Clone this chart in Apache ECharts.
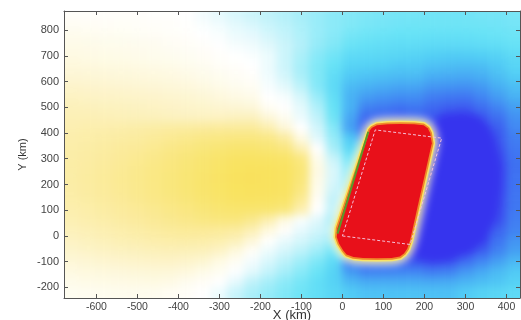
<!DOCTYPE html>
<html>
<head>
<meta charset="utf-8">
<script src="https://cdn.jsdelivr.net/npm/echarts@6/dist/echarts.min.js"></script>
<style>
    html, body { margin: 0; padding: 0; background: #fff; }
    #wrap { position: relative; width: 521px; height: 320px; }
    #heatClip { position: absolute; left: 64px; top: 11px; width: 456px; height: 287px; overflow: hidden; }
    #heat { position: absolute; left: -20px; top: -20px; width: 496px; height: 327px; filter: blur(4px); }
    #main { position: absolute; left: 0; top: 0; width: 521px; height: 320px; }
</style>
</head>
<body>
<div id="wrap">
    <div id="heatClip"><div id="heat"></div></div>
    <div id="main"></div>
</div>
<script>
// cell centres of the field grid (km)
var xCenters = [-660, -620, -580, -540, -500, -460, -420, -380, -340, -300, -260, -220, -180, -140,
    -100, -60, -20, 20, 60, 100, 140, 180, 220, 260, 300, 340, 380, 420];
var yCenters = [860, 820, 780, 740, 700, 660, 620, 580, 540, 500, 460, 420, 380, 340,
    300, 260, 220, 180, 140, 100, 60, 20, -20, -60, -100, -140, -180, -220];

// field values, one row per yCenters entry (top to bottom)
var fieldRows = [
    [0.1, 0.1, 0.1, 0.1, 0.1, 0.05, 0.05, 0.0, -0.2, -0.4, -0.6, -0.75, -0.9, -1.05, -1.2, -1.35, -1.5, -1.6, -1.7, -1.75, -1.8, -1.8, -1.85, -1.85, -1.85, -1.8, -1.8, -1.75],
    [0.25, 0.22, 0.2, 0.18, 0.15, 0.12, 0.1, 0.05, -0.1, -0.25, -0.45, -0.6, -0.8, -0.95, -1.15, -1.35, -1.5, -1.65, -1.75, -1.8, -1.85, -1.9, -1.9, -1.9, -1.9, -1.88, -1.85, -1.8],
    [0.4, 0.37, 0.33, 0.3, 0.27, 0.22, 0.15, 0.1, 0.0, -0.1, -0.3, -0.4, -0.65, -0.85, -1.1, -1.35, -1.55, -1.8, -1.9, -1.95, -2.0, -2.0, -2.05, -2.05, -2.05, -2.0, -1.95, -1.9],
    [0.5, 0.47, 0.43, 0.4, 0.37, 0.32, 0.25, 0.18, 0.1, 0.0, -0.15, -0.25, -0.5, -0.75, -1.05, -1.4, -1.65, -1.95, -2.05, -2.1, -2.15, -2.15, -2.2, -2.2, -2.2, -2.15, -2.1, -2.0],
    [0.6, 0.57, 0.53, 0.5, 0.45, 0.4, 0.35, 0.28, 0.2, 0.1, 0.0, -0.1, -0.3, -0.75, -1.15, -1.55, -1.85, -2.2, -2.25, -2.3, -2.35, -2.4, -2.5, -2.55, -2.55, -2.5, -2.4, -2.2],
    [0.75, 0.72, 0.68, 0.64, 0.6, 0.55, 0.5, 0.42, 0.32, 0.2, 0.1, 0.0, -0.3, -0.75, -1.2, -1.65, -2.0, -2.4, -2.45, -2.5, -2.6, -2.6, -2.75, -2.8, -2.85, -2.8, -2.6, -2.35],
    [0.9, 0.87, 0.83, 0.79, 0.75, 0.7, 0.65, 0.57, 0.46, 0.34, 0.22, 0.1, -0.25, -0.65, -1.15, -1.65, -2.15, -2.6, -2.7, -2.78, -2.85, -2.85, -3.05, -3.1, -3.15, -3.05, -2.8, -2.55],
    [1.1, 1.06, 1.02, 0.98, 0.93, 0.88, 0.82, 0.74, 0.63, 0.5, 0.35, 0.25, -0.15, -0.45, -0.95, -1.6, -2.2, -2.85, -3.0, -3.1, -3.2, -3.2, -3.45, -3.5, -3.55, -3.4, -3.05, -2.8],
    [1.25, 1.22, 1.18, 1.15, 1.12, 1.08, 1.02, 0.95, 0.85, 0.72, 0.58, 0.45, 0.0, -0.15, -0.65, -1.35, -2.1, -3.0, -3.35, -3.5, -3.6, -3.6, -3.9, -4.0, -4.05, -3.75, -3.35, -3.0],
    [1.4, 1.38, 1.35, 1.32, 1.28, 1.24, 1.18, 1.12, 1.05, 0.98, 0.9, 0.8, 0.25, 0.0, -0.45, -1.1, -2.0, -3.0, -3.8, -3.95, -4.1, -4.0, -4.3, -4.5, -4.6, -4.2, -3.75, -3.3],
    [1.5, 1.5, 1.48, 1.45, 1.42, 1.38, 1.33, 1.28, 1.25, 1.25, 1.3, 1.3, 0.8, 0.3, -0.3, -0.9, -1.9, -3.2, -4.3, -4.45, -4.65, -4.45, -4.7, -5.0, -5.0, -4.6, -4.15, -3.55],
    [1.6, 1.65, 1.68, 1.72, 1.76, 1.82, 1.88, 1.93, 1.97, 2.0, 2.0, 2.0, 1.6, 0.8, 0.0, -0.7, -1.6, -3.3, -4.8, -4.8, -4.8, -4.8, -5.0, -5.5, -5.5, -5.5, -4.5, -3.7],
    [1.7, 1.75, 1.8, 1.87, 1.95, 2.05, 2.2, 2.35, 2.5, 2.6, 2.7, 2.7, 2.5, 1.9, 0.6, -0.5, -1.4, -2.6, -4.5, -4.8, -4.8, -4.8, -5.0, -5.5, -5.5, -5.5, -4.6, -3.9],
    [1.75, 1.82, 1.9, 2.0, 2.1, 2.25, 2.45, 2.65, 2.85, 3.1, 3.3, 3.3, 3.1, 2.7, 1.5, 0.0, -1.2, -2.3, -4.5, -4.8, -4.8, -4.8, -5.0, -5.5, -5.5, -5.5, -4.8, -4.0],
    [1.78, 1.87, 1.97, 2.1, 2.25, 2.42, 2.65, 2.9, 3.2, 3.5, 3.8, 3.85, 3.8, 3.6, 2.7, 0.4, -0.8, -1.8, -4.5, -4.8, -4.8, -4.8, -5.0, -5.5, -5.5, -5.5, -5.2, -4.1],
    [1.8, 1.9, 2.02, 2.17, 2.33, 2.52, 2.75, 3.02, 3.35, 3.7, 4.0, 4.1, 4.1, 3.9, 3.0, 0.6, -0.6, -1.5, -4.8, -4.8, -4.8, -4.8, -5.0, -5.5, -5.5, -5.5, -5.5, -4.15],
    [1.8, 1.92, 2.05, 2.2, 2.37, 2.56, 2.8, 3.08, 3.42, 3.8, 4.1, 4.2, 4.15, 3.95, 2.9, 0.5, -0.6, -1.5, -4.8, -4.8, -4.8, -4.8, -5.0, -5.5, -5.5, -5.5, -5.5, -4.1],
    [1.78, 1.9, 2.03, 2.18, 2.35, 2.54, 2.78, 3.05, 3.4, 3.75, 4.05, 4.1, 4.1, 3.9, 2.7, 0.4, -0.7, -2.0, -4.8, -4.8, -4.8, -4.8, -5.0, -5.5, -5.5, -5.5, -5.4, -4.1],
    [1.75, 1.85, 1.97, 2.1, 2.27, 2.45, 2.67, 2.92, 3.25, 3.55, 3.85, 3.9, 3.85, 3.6, 2.2, 0.2, -0.9, -4.8, -4.8, -4.8, -4.8, -4.8, -5.0, -5.5, -5.5, -5.5, -5.1, -4.05],
    [1.65, 1.75, 1.86, 1.98, 2.12, 2.28, 2.45, 2.65, 2.9, 3.15, 3.35, 3.3, 3.2, 2.8, 1.6, 0.0, -0.9, -4.8, -4.8, -4.8, -4.8, -4.8, -5.0, -5.5, -5.5, -5.5, -5.0, -4.0],
    [1.55, 1.65, 1.75, 1.86, 1.98, 2.12, 2.27, 2.42, 2.6, 2.75, 2.75, 2.3, 1.6, 0.6, -0.1, -0.5, -1.2, -4.8, -4.8, -4.8, -4.8, -4.8, -5.0, -5.5, -5.5, -5.5, -4.9, -3.9],
    [1.4, 1.5, 1.6, 1.7, 1.8, 1.9, 2.0, 2.08, 2.1, 2.05, 1.9, 1.5, 0.7, 0.1, -0.4, -0.7, -1.1, -4.8, -4.8, -4.8, -4.8, -4.8, -5.0, -5.5, -5.5, -5.4, -4.4, -3.8],
    [1.25, 1.35, 1.44, 1.53, 1.62, 1.7, 1.75, 1.78, 1.75, 1.65, 1.4, 0.8, 0.05, -0.35, -0.65, -0.95, -1.4, -4.8, -4.8, -4.8, -4.8, -4.8, -5.0, -5.5, -5.5, -5.2, -4.1, -3.5],
    [1.05, 1.15, 1.23, 1.3, 1.37, 1.43, 1.47, 1.45, 1.38, 1.2, 0.7, 0.15, -0.3, -0.65, -0.95, -1.3, -1.8, -4.5, -4.8, -4.8, -4.8, -4.8, -5.0, -5.5, -5.4, -4.5, -3.8, -3.3],
    [0.85, 0.92, 1.0, 1.06, 1.12, 1.16, 1.17, 1.1, 0.95, 0.6, 0.25, -0.2, -0.6, -0.95, -1.3, -1.7, -2.2, -4.15, -4.75, -4.8, -4.7, -4.75, -5.0, -4.75, -4.25, -3.75, -3.3, -2.9],
    [0.65, 0.7, 0.76, 0.8, 0.83, 0.85, 0.84, 0.72, 0.5, 0.3, -0.05, -0.45, -0.85, -1.2, -1.55, -1.95, -2.4, -3.4, -3.8, -3.8, -3.75, -3.75, -3.95, -3.85, -3.45, -3.15, -2.85, -2.6],
    [0.45, 0.5, 0.54, 0.57, 0.59, 0.6, 0.55, 0.35, 0.2, 0.0, -0.4, -0.9, -1.2, -1.5, -1.8, -2.1, -2.4, -2.9, -3.1, -3.1, -3.1, -3.1, -3.15, -3.1, -2.95, -2.8, -2.65, -2.45],
    [0.3, 0.32, 0.34, 0.36, 0.37, 0.35, 0.25, 0.15, 0.0, -0.3, -0.8, -1.15, -1.4, -1.65, -1.9, -2.1, -2.3, -2.55, -2.7, -2.7, -2.7, -2.7, -2.75, -2.75, -2.55, -2.4, -2.3, -2.2]
];

// saturated uplift block (km)
var blockX = [67, 72, 84, 110, 141, 175, 198, 208, 214, 218, 165, 158, 150, 140, 120, 84, 50, 27, 10, 2, -8, -14, -12];
var blockY = [411, 420, 430, 434, 435, 434, 430, 418, 400, 360, -17, -50, -68, -80, -86, -87, -86, -82, -72, -56, -30, -4, 30];

// saturated subsidence lobe (km)
var blobX = [214, 238, 270, 299, 330, 348, 368, 377, 385, 383, 377, 365, 348, 325, 299, 270, 238, 205, 177, 153, 189];
var blobY = [419, 470, 480, 481, 470, 442, 400, 353, 256, 160, 81, 30, -17, -52, -75, -93, -102, -99, -87, -56, 411];

// fault outline and trace
var faultX = [0, 165, 242, 80, 0];
var faultY = [0, -33, 380, 412, 0];
var traceX = [63, -12];
var traceY = [405, 9];

var xTicks = [-600, -500, -400, -300, -200, -100, 0, 100, 200, 300, 400];
var yTicks = [-200, -100, 0, 100, 200, 300, 400, 500, 600, 700, 800];

var xMin = -679, xMax = 433, yMin = -241, yMax = 874;
var halfCell = 20;
var edgePad = 100;

var heatData = [];
for (var r = 0; r < yCenters.length; r++) {
    for (var c = 0; c < xCenters.length; c++) {
        heatData.push([xCenters[c], yCenters[r], fieldRows[r][c]]);
    }
}

function toPoints(api, xs, ys) {
    var pts = [];
    for (var i = 0; i < xs.length; i++) {
        pts.push(api.coord([xs[i], ys[i]]));
    }
    return pts;
}

function pairs(xs, ys) {
    var out = [];
    for (var i = 0; i < xs.length; i++) {
        out.push([xs[i], ys[i]]);
    }
    return out;
}

function renderCell(params, api) {
    var x = api.value(0);
    var y = api.value(1);
    var left = x - halfCell, right = x + halfCell, top = y + halfCell, bottom = y - halfCell;
    // outer cells run on under the clip so the softening does not fade at the frame
    if (x === xCenters[0]) left -= edgePad;
    if (x === xCenters[xCenters.length - 1]) right += edgePad;
    if (y === yCenters[0]) top += edgePad;
    if (y === yCenters[yCenters.length - 1]) bottom -= edgePad;
    var p1 = api.coord([left, top]);
    var p2 = api.coord([right, bottom]);
    var color = api.visual('color');
    return {
        type: 'rect',
        shape: { x: p1[0], y: p1[1], width: p2[0] - p1[0], height: p2[1] - p1[1] },
        style: { fill: color, stroke: color, lineWidth: 0.6 }
    };
}

function renderBlob(params, api) {
    return {
        type: 'polygon',
        shape: { points: toPoints(api, blobX, blobY), smooth: 0.35 },
        style: { fill: '#3634ee' }
    };
}

// soft halo round the block (blurred layer)
function renderGlow(params, api) {
    var pts = toPoints(api, blockX, blockY);
    return {
        type: 'group',
        children: [
            { type: 'polygon', shape: { points: pts }, style: { fill: 'none', stroke: '#ffffff', lineWidth: 12, lineJoin: 'round' } },
            { type: 'polygon', shape: { points: pts }, style: { fill: '#f8e35c', stroke: '#f8e35c', lineWidth: 5, lineJoin: 'round' } }
        ]
    };
}

// crisp block with its rim (top layer)
function renderBlock(params, api) {
    var pts = toPoints(api, blockX, blockY);
    return {
        type: 'group',
        children: [
            { type: 'polygon', shape: { points: pts }, style: { fill: 'none', stroke: '#f8e468', lineWidth: 6.5, lineJoin: 'round' } },
            { type: 'polygon', shape: { points: pts }, style: { fill: 'none', stroke: '#f0892a', lineWidth: 3.5, lineJoin: 'round' } },
            { type: 'polygon', shape: { points: pts }, style: { fill: '#e8101a' } }
        ]
    };
}

var colorStops = ['#3634ee', '#3840ef', '#3a4def', '#3c5ff0', '#3f78f2', '#4294f3', '#48b2f4', '#52cff5',
    '#66e2f6', '#8ceaf8', '#b8f1fa', '#e0f8fc', '#ffffff', '#fefbe8', '#fdf5d0', '#fcf0b6',
    '#fbeb9c', '#fae886', '#f9e676', '#f9e46a', '#f9e360', '#f8de56', '#f4a232', '#ee5a22', '#e6121c'];

// --- softened field layer ---
var heatChart = echarts.init(document.getElementById('heat'));
heatChart.setOption({
    animation: false,
    grid: { left: 20, right: 20, top: 20, bottom: 20, containLabel: false, outerBoundsMode: 'none' },
    visualMap: {
        type: 'continuous', show: false, min: -6, max: 6, dimension: 2, seriesIndex: 0,
        inRange: { color: colorStops }
    },
    xAxis: { type: 'value', min: xMin, max: xMax, show: false },
    yAxis: { type: 'value', min: yMin, max: yMax, show: false },
    series: [
        { type: 'custom', renderItem: renderCell, data: heatData, encode: { x: 0, y: 1 }, clip: false, silent: true, z: 1 },
        { type: 'custom', renderItem: renderBlob, data: [[0, 0]], silent: true, z: 2 },
        { type: 'custom', renderItem: renderGlow, data: [[0, 0]], silent: true, z: 3 }
    ]
});

// --- axes, block and fault lines ---
var axisColor = '#555';
var fontFamily = 'Liberation Sans, Arial, sans-serif';

var myChart = echarts.init(document.getElementById('main'));

var option = {
    animation: false,
    backgroundColor: 'transparent',
    grid: { left: 64, right: 1, top: 11, bottom: 22, containLabel: false, outerBoundsMode: 'none' },
    xAxis: [
        {
            type: 'value', min: xMin, max: xMax, position: 'bottom', z: 10,
            name: 'X (km)', nameLocation: 'middle', nameGap: 11, nameMoveOverlap: false,
            nameTextStyle: { color: '#333', fontSize: 13, fontFamily: fontFamily },
            axisLine: { show: true, onZero: false, lineStyle: { color: axisColor, width: 1 } },
            axisTick: { show: true, inside: true, length: 4, customValues: xTicks, lineStyle: { color: axisColor } },
            axisLabel: { customValues: xTicks, color: '#444', fontSize: 10.5, margin: 4, fontFamily: fontFamily },
            splitLine: { show: false }
        },
        {
            type: 'value', min: xMin, max: xMax, position: 'top', z: 10,
            axisLine: { show: true, onZero: false, lineStyle: { color: axisColor, width: 1 } },
            axisTick: { show: true, inside: true, length: 4, customValues: xTicks, lineStyle: { color: axisColor } },
            axisLabel: { show: false },
            splitLine: { show: false }
        }
    ],
    yAxis: [
        {
            type: 'value', min: yMin, max: yMax, position: 'left', z: 10,
            name: 'Y (km)', nameLocation: 'middle', nameGap: 36, nameMoveOverlap: false,
            nameTextStyle: { color: '#333', fontSize: 11, fontFamily: fontFamily },
            axisLine: { show: true, onZero: false, lineStyle: { color: axisColor, width: 1 } },
            axisTick: { show: true, inside: true, length: 4, customValues: yTicks, lineStyle: { color: axisColor } },
            axisLabel: { customValues: yTicks, color: '#444', fontSize: 11, margin: 5, fontFamily: fontFamily },
            splitLine: { show: false }
        },
        {
            type: 'value', min: yMin, max: yMax, position: 'right', z: 10,
            axisLine: { show: true, onZero: false, lineStyle: { color: axisColor, width: 1 } },
            axisTick: { show: true, inside: true, length: 4, customValues: yTicks, lineStyle: { color: axisColor } },
            axisLabel: { show: false },
            splitLine: { show: false }
        }
    ],
    series: [
        {
            type: 'custom',
            renderItem: renderBlock,
            data: [[0, 0]],
            clip: true,
            silent: true,
            z: 3
        },
        {
            type: 'line',
            data: pairs(traceX, traceY),
            symbol: 'none',
            silent: true,
            lineStyle: { color: '#5a9a2a', width: 2 },
            z: 4
        },
        {
            type: 'line',
            data: pairs(faultX, faultY),
            symbol: 'none',
            silent: true,
            lineStyle: { color: '#f5c0d8', width: 1, type: [3, 2] },
            z: 5
        }
    ]
};

myChart.setOption(option);
window.onresize = function () {
    heatChart.resize();
    myChart.resize();
};
</script>
</body>
</html>
